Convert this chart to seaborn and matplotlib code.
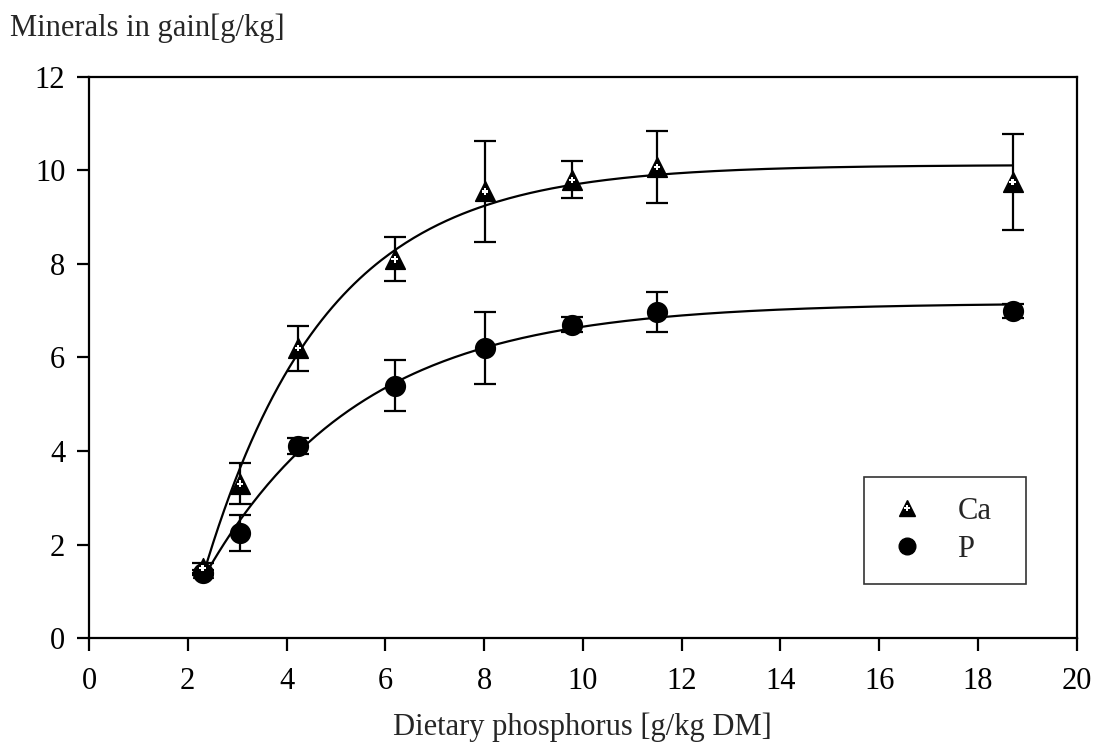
import numpy as np
import pandas as pd
import matplotlib
matplotlib.use("Agg")
import matplotlib.pyplot as plt
import seaborn as sns
from matplotlib.lines import Line2D

# ---- data ----
dietary_p = [2.3, 3.06, 4.23, 6.19, 8.02, 9.78, 11.5, 18.7]
ca_mean = [1.5, 3.3, 6.2, 8.1, 9.55, 9.8, 10.07, 9.75]
ca_err = [0.1, 0.44, 0.48, 0.47, 1.07, 0.4, 0.77, 1.03]
p_mean = [1.4, 2.25, 4.1, 5.4, 6.2, 6.7, 6.97, 7.0]
p_err = [0.05, 0.38, 0.17, 0.55, 0.77, 0.16, 0.43, 0.15]
x_ticks = [0, 2, 4, 6, 8, 10, 12, 14, 16, 18, 20]
y_ticks = [0, 2, 4, 6, 8, 10, 12]

sns.set_style("ticks")
plt.rcParams['font.family'] = ['Liberation Serif', 'DejaVu Serif']
FS = 22

fig = plt.figure(figsize=(11.01, 7.54), dpi=100)
ax = fig.add_axes([0.0808, 0.1538, 0.978 - 0.0808, 0.898 - 0.1538])


def fit_exp(x, y):
    """Least-squares fit of y = a - b*exp(-c x)."""
    x = np.asarray(x, float)
    y = np.asarray(y, float)
    best = None
    for c in np.linspace(0.05, 1.5, 2000):
        A = np.column_stack([np.ones_like(x), -np.exp(-c * x)])
        coef, *_ = np.linalg.lstsq(A, y, rcond=None)
        r = np.sum((A @ coef - y) ** 2)
        if best is None or r < best[0]:
            best = (r, coef[0], coef[1], c)
    return best[1:]


xs = np.linspace(min(dietary_p), max(dietary_p), 300)
for mean in (ca_mean, p_mean):
    a, b, c = fit_exp(dietary_p, mean)
    curve = pd.DataFrame({"x": xs, "y": a - b * np.exp(-c * xs)})
    sns.lineplot(data=curve, x="x", y="y", ax=ax, color="black", lw=1.6)

ax.errorbar(dietary_p, ca_mean, yerr=ca_err, fmt="none", ecolor="black",
            elinewidth=1.6, capsize=8, capthick=1.6, zorder=3)
ax.errorbar(dietary_p, p_mean, yerr=p_err, fmt="none", ecolor="black",
            elinewidth=1.6, capsize=8, capthick=1.6, zorder=3)

df_ca = pd.DataFrame({"x": dietary_p, "y": ca_mean})
df_p = pd.DataFrame({"x": dietary_p, "y": p_mean})
sns.scatterplot(data=df_ca, x="x", y="y", ax=ax, marker="^", s=200,
                color="black", edgecolor="black", zorder=4)
sns.scatterplot(data=df_ca, x="x", y="y", ax=ax, marker="P", s=22,
                color="white", edgecolor="none", linewidth=0, zorder=5)
sns.scatterplot(data=df_p, x="x", y="y", ax=ax, marker="o", s=200,
                color="black", edgecolor="black", zorder=4)

ax.set_xlim(0, 20)
ax.set_ylim(0, 12)
ax.set_xticks(x_ticks)
ax.set_yticks(y_ticks)
ax.tick_params(axis="both", direction="out", length=9, width=1.6,
               labelsize=FS, colors="black", pad=8)
ax.tick_params(axis="x", pad=12)
for s in ax.spines.values():
    s.set_visible(True)
    s.set_linewidth(1.6)
    s.set_color("black")
ax.set_xlabel("Dietary phosphorus [g/kg DM]", fontsize=FS, labelpad=12)
ax.set_ylabel("")
fig.text(0.009, 0.962, "Minerals in gain[g/kg]", fontsize=FS, ha="left", va="center")

tri = Line2D([], [], marker="^", color="black", ls="none", markersize=12)
plus = Line2D([], [], marker="P", color="white", ls="none", markersize=4.5,
              markeredgewidth=0)
dot = Line2D([], [], marker="o", color="black", ls="none", markersize=12)
x0, x1 = 864 / 1101, 1026 / 1101
y1, y0 = 1 - 477 / 754, 1 - 583 / 754
leg = ax.legend([(tri, plus), dot], ["Ca", "P"], loc="upper left",
                bbox_to_anchor=(x0, y0, x1 - x0, y1 - y0), mode="expand",
                bbox_transform=fig.transFigure, fontsize=FS,
                frameon=True, fancybox=False, edgecolor="black",
                borderpad=0.66, handletextpad=0.9, labelspacing=0.28,
                borderaxespad=0, handlelength=1.5)
leg.get_frame().set_linewidth(1.2)

fig.savefig("out.png", dpi=100)
